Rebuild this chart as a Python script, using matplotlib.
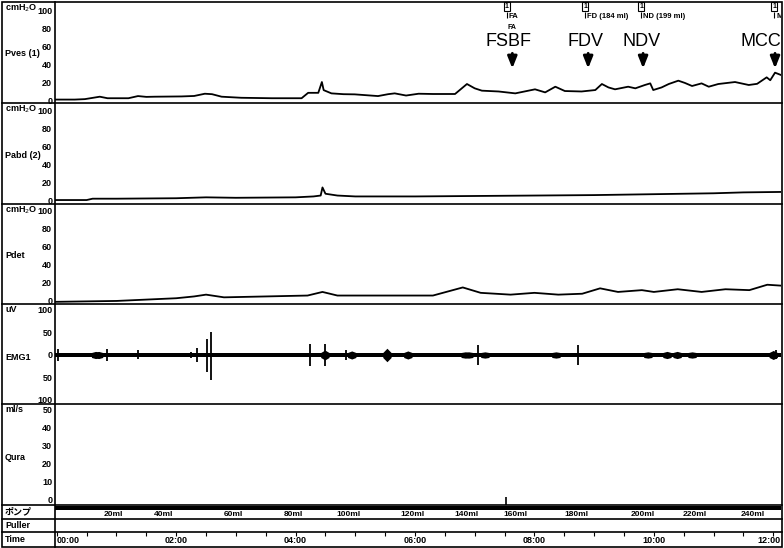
#!/usr/bin/env python

import numpy as np
import matplotlib
matplotlib.use('Agg')
import matplotlib.pyplot as plt
from matplotlib.lines import Line2D
from matplotlib.patches import Rectangle


# ----------------------------------------------------------------------
# Data (time in minutes)
# ----------------------------------------------------------------------

pves_t = [-0.03, 0.3, 0.47, 0.72, 0.85, 1.2, 1.36, 1.5, 1.64, 2.09, 2.3,
          2.48, 2.6, 2.76, 3.09, 3.6, 4.1, 4.21, 4.38, 4.44, 4.47, 4.6,
          4.8, 4.99, 5.38, 5.55, 5.66, 5.85, 6.06, 6.3, 6.67, 6.87, 7.0,
          7.12, 7.4, 7.68, 8.01, 8.18, 8.35, 8.51, 8.79, 9.02, 9.13, 9.24,
          9.35, 9.57, 9.69, 9.85, 9.94, 9.99, 10.13, 10.25, 10.41, 10.52,
          10.64, 10.80, 10.92, 11.08, 11.36, 11.59, 11.73, 11.89, 11.95,
          12.03, 12.13]
pves_v = [0.5, 0.5, 1, 3.7, 2, 2, 4.4, 3.5, 3.7, 4, 4.5,
          7, 6.5, 3.7, 2.5, 2, 2, 8, 8, 20, 11, 7.4,
          6.5, 6.3, 4.4, 6.5, 7.4, 5, 7, 6.7, 6.7, 17.8, 13,
          10.4, 9.5, 7.4, 11.9, 8.5, 14.8, 10, 9.5, 11.1, 17.8, 14,
          11.9, 14.8, 13, 16.7, 18.5, 11.1, 14, 17.8, 21.5, 19,
          15.6, 18.5, 14.8, 17.8, 20, 16.7, 18, 25.2, 22,
          30.4, 27.8]

pabd_t = [-0.03, 0.5, 0.6, 1.0, 2.0, 2.5, 3.0, 4.0, 4.3, 4.42, 4.45, 4.5,
          4.7, 5.0, 6.0, 7.0, 8.0, 9.0, 10.0, 11.0, 11.5, 12.13]
pabd_v = [0, 0, 1.5, 1.5, 2, 3, 2.5, 3, 4, 5, 14, 7,
          5, 4, 4, 4.5, 5, 5.5, 6.5, 7.5, 8.5, 9]

pdet_t = [-0.03, 1, 2, 2.3, 2.5, 2.8, 3.5, 4.2, 4.45, 4.7, 5.5, 6.3, 6.8,
          7.1, 7.6, 8.0, 8.4, 8.8, 9.1, 9.4, 9.8, 10.0, 10.4, 10.8, 11.2,
          11.6, 11.9, 12.13]
pdet_v = [-2, -1, 2, 4, 6, 3, 4, 5, 9, 5, 5, 5, 14,
          8, 6, 8, 6, 7, 13, 9, 11, 9, 12, 9, 12,
          11, 17, 16]

# EMG: spikes (time, up, down) and bursts (time, half width)
spike_t = [0.02, 0.84, 1.36, 2.25, 2.35, 2.51, 2.58, 4.24, 4.49, 4.84,
           7.06, 8.73, 12.05]
spike_up = [14, 14, 10, 6, 16, 36, 52, 24, 25, 12, 22, 22, 10]
spike_dn = [-14, -14, -10, -6, -16, -38, -55, -24, -25, -12, -22, -22, -10]
burst_t = [0.65, 0.70, 4.49, 4.94, 5.53, 5.88, 6.84, 6.90, 7.17, 8.36,
           9.90, 10.22, 10.39, 10.64, 12.0]
burst_w = [8, 8, 11, 9, 15, 9, 7, 7, 7, 7, 7, 8, 8, 7, 10]
emg_base = 5.5

# event markers and annotations
event_t = [7.54, 8.85, 9.79, 12.02]
event_lbl = ['FA', 'FD (184 ml)', 'ND (199 ml)', 'M']
ann_t = [7.56, 8.85, 9.79, 11.80]
arrow_t = [7.63, 8.90, 9.82, 12.03]
ann_lbl = ['FSBF', 'FDV', 'NDV', 'MCC']

# pump volumes
vol_t = [0.955, 1.78, 2.95, 3.96, 4.89, 5.95, 6.87, 7.68, 8.71, 9.82,
         10.68, 11.65]
vol_lbl = ['20ml', '40ml', '60ml', '80ml', '100ml', '120ml', '140ml',
           '160ml', '180ml', '200ml', '220ml', '240ml']

time_major = [0, 2, 4, 6, 8, 10, 12]
time_lbl = ['00:00', '02:00', '04:00', '06:00', '08:00', '10:00', '12:00']
time_minor = np.arange(0, 12.1, 0.5)

# ----------------------------------------------------------------------
# Layout (pixels)
# ----------------------------------------------------------------------

W, H = 784, 548
X0, X1 = 55, 781
TLIM = (-0.03, 12.13)
FONT = 'Liberation Sans'

fig = plt.figure(figsize=(W / 100, H / 100), dpi=100)


def add_panel(y0, y1):
    ax = fig.add_axes([X0 / W, 1 - y1 / H, (X1 - X0) / W, (y1 - y0) / H])
    ax.set_xlim(TLIM)
    ax.set_xticks([])
    for s in ax.spines.values():
        s.set_visible(False)
    ax.patch.set_alpha(0)
    return ax


def hline(y, x0=2, x1=782, lw=1.2):
    fig.add_artist(Line2D([x0 / W, x1 / W], [1 - y / H, 1 - y / H],
                          transform=fig.transFigure, color='k', lw=lw))


def label(x, y, s, **kw):
    fig.text(x / W, 1 - y / H, s, va='center', ha='left', fontsize=6.5,
             fontweight='bold', family=kw.pop('family', FONT), **kw)


def yticks(ax, ticks, lbls=None):
    ax.set_yticks(ticks)
    ax.set_yticklabels(lbls if lbls else [str(t) for t in ticks],
                       fontsize=6.5, fontweight='bold', family=FONT)
    ax.tick_params(axis='y', length=0, pad=2)


# pressure panels
panels = [(2, 103, (-3.3, 108.9), 'Pves (1)', 53, pves_t, pves_v),
          (103, 204, (-4.4, 107.8), 'Pabd (2)', 155, pabd_t, pabd_v),
          (204, 304, (-4.4, 106.7), 'Pdet', 256, pdet_t, pdet_v)]

axes = []
for y0, y1, ylim, name, yname, t, v in panels:
    ax = add_panel(y0, y1)
    ax.set_ylim(ylim)
    yticks(ax, [0, 20, 40, 60, 80, 100])
    ax.plot(t, v, color='k', lw=1.3)
    label(5, y0 + 6, 'cmH$_2$O')
    label(5, yname, name)
    axes.append(ax)

ax_pves = axes[0]

# events on Pves
for t, s in zip(event_t, event_lbl):
    ax_pves.text(t, 103.5, '1', fontsize=5, ha='center', va='center',
                 family=FONT, fontweight='bold', clip_on=False,
                 bbox=dict(boxstyle='square,pad=0.15', fc='white',
                           ec='k', lw=0.8))
    ax_pves.vlines(t, 91, 98, color='k', lw=0.8)
    ax_pves.text(t + 0.03, 92.5, s, fontsize=5.5, ha='left', va='center',
                 family=FONT, fontweight='bold', clip_on=True)

ax_pves.text(7.62, 80.5, 'FA', fontsize=5, ha='center', va='center',
             family=FONT, fontweight='bold')
for t, ta, s in zip(ann_t, arrow_t, ann_lbl):
    ax_pves.text(t, 65.5, s, fontsize=13, ha='center', va='center',
                 family=FONT)
    ax_pves.annotate('', xy=(ta, 32), xytext=(ta, 55),
                     arrowprops=dict(arrowstyle='-|>,head_width=0.28,head_length=0.7',
                                     color='k', lw=2))

# EMG
ax_emg = add_panel(304, 404)
ax_emg.set_ylim(-108.9, 113.3)
yticks(ax_emg, [-100, -50, 0, 50, 100], ['100', '50', '0', '50', '100'])
ax_emg.fill_between(TLIM, -emg_base, emg_base, color='k', lw=0)
ax_emg.vlines(spike_t, spike_dn, spike_up, color='k', lw=1.3)
for t, w in zip(burst_t, burst_w):
    ax_emg.fill_between([t - 0.07, t, t + 0.07], [-emg_base, -w, -emg_base],
                        [emg_base, w, emg_base], color='k', lw=0)
label(5, 310, 'uV')
label(5, 357, 'EMG1')

# Qura
ax_q = add_panel(404, 505)
ax_q.set_ylim(-2.8, 53.3)
yticks(ax_q, [0, 10, 20, 30, 40, 50])
ax_q.vlines(7.53, -2.8, 1.5, color='k', lw=1.2)
label(5, 410, 'ml/s')
label(5, 458, 'Qura')

# pump row
ax_p = add_panel(505, 519)
ax_p.set_ylim(0, 14)
ax_p.set_yticks([])
ax_p.fill_between(TLIM, 9, 13, color='k', lw=0)
for t, s in zip(vol_t, vol_lbl):
    ax_p.text(t, 4, s, fontsize=6, ha='center', va='center',
              family=FONT, fontweight='bold')
label(5, 512, 'ポンプ', family=['Noto Sans CJK JP', 'DejaVu Sans'])

# puller row
label(5, 526, 'Puller')

# time row
ax_t = add_panel(532, 547)
ax_t.set_ylim(0, 15)
ax_t.set_yticks([])
ax_t.set_xticks(time_major)
ax_t.set_xticks(time_minor, minor=True)
ax_t.tick_params(axis='x', which='both', top=True, bottom=False,
                 direction='in', length=3, width=0.8, labelbottom=False)
for t, s in zip(time_major, time_lbl):
    if t == time_major[0]:
        ax_t.text(t, 6.5, s, fontsize=6.5, ha='left', va='center',
                  family=FONT, fontweight='bold')
    elif t == time_major[-1]:
        ax_t.text(TLIM[1], 6.5, s, fontsize=6.5, ha='right', va='center',
                  family=FONT, fontweight='bold')
    else:
        ax_t.text(t, 6.5, s, fontsize=6.5, ha='center', va='center',
                  family=FONT, fontweight='bold')
label(5, 540, 'Time')

# frame lines
for y in [103, 204, 304, 404, 505, 519, 532]:
    hline(y)
fig.add_artist(Line2D([X0 / W, X0 / W], [1 - 2 / H, 1 - 547 / H],
                      transform=fig.transFigure, color='k', lw=1.2))
fig.add_artist(Rectangle((2 / W, 1 - 547 / H), 780 / W, 545 / H,
                         transform=fig.transFigure, fill=False,
                         ec='k', lw=1.2))

plt.savefig('out.png', dpi=100)
plt.close()
